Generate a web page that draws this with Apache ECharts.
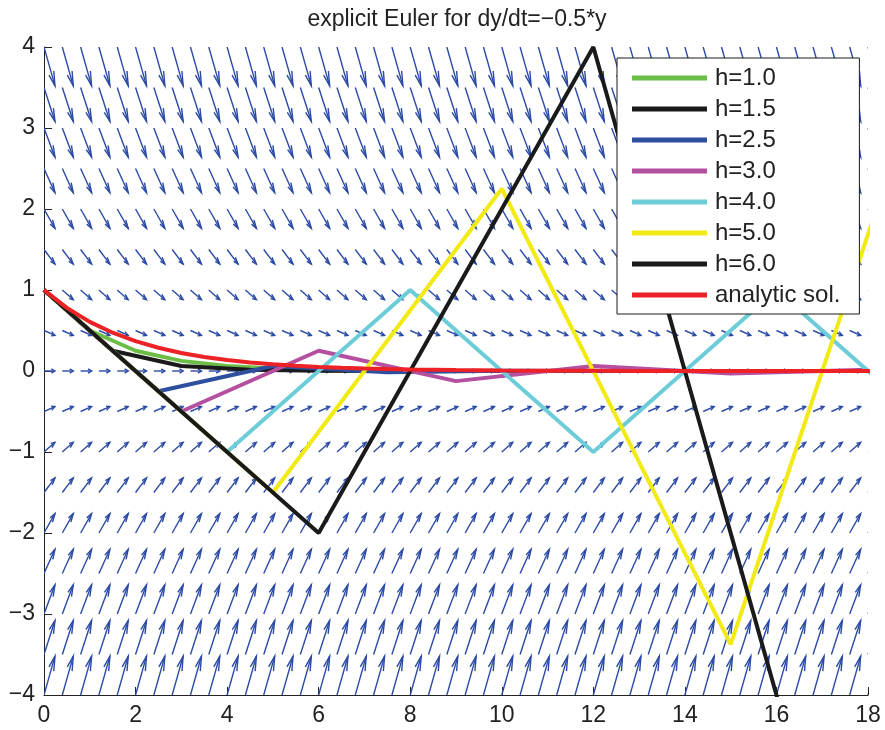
<!DOCTYPE html>
<html>
<head>
<meta charset="utf-8">
<script src="https://cdn.jsdelivr.net/npm/echarts@6/dist/echarts.min.js"></script>
<style>
  html, body { margin: 0; padding: 0; background: #fff; }
  #chart { width: 885px; height: 730px; }
</style>
</head>
<body>
<div id="chart"></div>
<script>
// Explicit Euler steps for dy/dt = -0.5*y, y(0) = 1, with several step sizes
const t_h10 = [0,1,2,3,4,5,6,7,8,9,10,11,12,13,14,15,16,17,18,19,20];
const y_h10 = [1,0.5,0.25,0.125,0.0625,0.03125,0.015625,0.0078,0.0039,0.002,0.001,0.0005,0.00024,0.00012,0.00006,0.00003,0.000015,0.0000076,0.0000038,0.0000019,0.00000095];

const t_h15 = [0,1.5,3,4.5,6,7.5,9,10.5,12,13.5,15,16.5,18,19.5];
const y_h15 = [1,0.25,0.0625,0.015625,0.0039,0.00098,0.00024,0.00006,0.000015,0.0000038,0.00000095,0.00000024,0.00000006,0.000000015];

const t_h25 = [0,2.5,5,7.5,10,12.5,15,17.5,20];
const y_h25 = [1,-0.25,0.0625,-0.015625,0.0039,-0.00098,0.00024,-0.00006,0.000015];

const t_h30 = [0,3,6,9,12,15,18];
const y_h30 = [1,-0.5,0.25,-0.125,0.0625,-0.03125,0.015625];

const t_h40 = [0,4,8,12,16,20];
const y_h40 = [1,-1,1,-1,1,-1];

const t_h50 = [0,5,10,15,20];
const y_h50 = [1,-1.5,2.25,-3.375,5.0625];

const t_h60 = [0,6,12,18];
const y_h60 = [1,-2,4,-8];

// exact solution exp(-t/2)
const t_exact = [0,0.5,1,1.5,2,2.5,3,3.5,4,4.5,5,5.5,6,6.5,7,7.5,8,9,10,11,12,13,14,15,16,17,18,19,20];
const y_exact = [1,0.7788,0.6065,0.4724,0.3679,0.2865,0.2231,0.1738,0.1353,0.1054,0.0821,0.0639,0.0498,0.0388,0.0302,0.0235,0.0183,0.0111,0.0067,0.0041,0.0025,0.0015,0.0009,0.00055,0.00034,0.0002,0.00012,0.00007,0.00005];

// direction field grid
const fieldT = [];
for (let i = 0; i <= 45; i++) fieldT.push(+(i * 0.4).toFixed(2));
const fieldY = [-4,-3.5,-3,-2.5,-2,-1.5,-1,-0.5,0,0.5,1,1.5,2,2.5,3,3.5,4];

const seriesNames = ['h=1.0','h=1.5','h=2.5','h=3.0','h=4.0','h=5.0','h=6.0','analytic sol.'];
const seriesColors = ['#6cbd45','#1a1a1a','#2e4e9e','#b54fa0','#6ccdd9','#f2ea14','#1a1a1a','#ec2227'];
const seriesT = [t_h10,t_h15,t_h25,t_h30,t_h40,t_h50,t_h60,t_exact];
const seriesY = [y_h10,y_h15,y_h25,y_h30,y_h40,y_h50,y_h60,y_exact];

const fieldData = [];
fieldY.forEach(y => fieldT.forEach(t => fieldData.push([t, y])));

const ARROW_SCALE = 0.24;
const ALPHA = 0.33, BETA = 0.33;

function renderArrow(params, api) {
  const x = api.value(0), y = api.value(1);
  const u = ARROW_SCALE, v = -0.5 * y * ARROW_SCALE;
  const tipX = x + u, tipY = y + v;
  const p0 = api.coord([x, y]);
  const p1 = api.coord([tipX, tipY]);
  const h1 = api.coord([tipX - ALPHA * (u + BETA * v), tipY - ALPHA * (v - BETA * u)]);
  const h2 = api.coord([tipX - ALPHA * (u - BETA * v), tipY - ALPHA * (v + BETA * u)]);
  const style = { stroke: '#2a4aa6', lineWidth: 1.4, fill: null };
  return {
    type: 'group',
    children: [
      { type: 'polyline', shape: { points: [p0, p1] }, style: style },
      { type: 'polyline', shape: { points: [h1, p1, h2] }, style: style }
    ]
  };
}

const series = [{
  type: 'custom',
  name: 'field',
  data: fieldData,
  renderItem: renderArrow,
  clip: true,
  silent: true,
  z: 1
}];
seriesNames.forEach((name, i) => {
  series.push({
    type: 'line',
    name: name,
    data: seriesT[i].map((t, k) => [t, seriesY[i][k]]),
    showSymbol: false,
    symbol: 'none',
    clip: true,
    lineStyle: { color: seriesColors[i], width: 4 },
    itemStyle: { color: seriesColors[i] },
    z: 2 + i,
    animation: false
  });
});

const chart = echarts.init(document.getElementById('chart'), null, { renderer: 'canvas' });
const fontFamily = '"Liberation Sans", Arial, Helvetica, sans-serif';
chart.setOption({
  animation: false,
  backgroundColor: '#ffffff',
  textStyle: { fontFamily: fontFamily },
  title: {
    text: 'explicit Euler for dy/dt=\u22120.5*y',
    left: 457,
    textAlign: 'center',
    top: 8,
    padding: 0,
    textStyle: { fontFamily: fontFamily, fontSize: 23, fontWeight: 'normal', color: '#222' }
  },
  grid: { left: 44, right: 17, top: 47, bottom: 35, containLabel: false },
  legend: {
    data: seriesNames,
    orient: 'vertical',
    left: 617,
    top: 58,
    icon: 'rect',
    itemWidth: 75,
    itemHeight: 5,
    itemGap: 7,
    padding: [8, 19, 7, 15],
    backgroundColor: '#ffffff',
    borderColor: '#1a1a1a',
    borderWidth: 1,
    borderRadius: 0,
    textStyle: { fontFamily: fontFamily, fontSize: 24, color: '#222', lineHeight: 24, padding: [0, 0, 0, 3] },
    selectedMode: false,
    z: 20
  },
  xAxis: {
    type: 'value',
    min: 0, max: 18, interval: 2,
    axisLine: { show: true, onZero: false, lineStyle: { color: '#222', width: 1 } },
    axisTick: { show: true, inside: true, length: 8, lineStyle: { color: '#222' } },
    axisLabel: { fontFamily: fontFamily, fontSize: 23, color: '#222', margin: 9 },
    splitLine: { show: false }
  },
  yAxis: {
    type: 'value',
    min: -4, max: 4, interval: 1,
    axisLine: { show: true, onZero: false, lineStyle: { color: '#222', width: 1 } },
    axisTick: { show: true, inside: true, length: 8, lineStyle: { color: '#222' } },
    axisLabel: {
      fontFamily: fontFamily, fontSize: 23, color: '#222', margin: 9,
      formatter: v => String(v).replace('-', '\u2212')
    },
    splitLine: { show: false }
  },
  series: series
});
</script>
</body>
</html>
